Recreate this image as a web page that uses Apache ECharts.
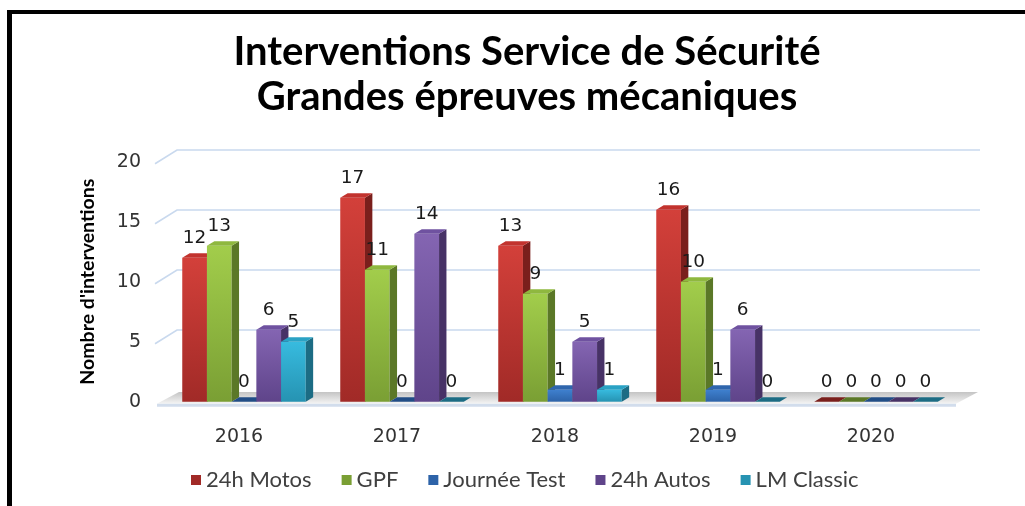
<!DOCTYPE html>
<html>
<head>
<meta charset="utf-8">
<script src="https://cdn.jsdelivr.net/npm/echarts@6/dist/echarts.min.js"></script>
<style>
html, body { margin: 0; padding: 0; background: #fff; overflow: hidden; }
#chart { width: 1025px; height: 506px; }
.frame { position: absolute; left: 7px; top: 10px; right: -10px; bottom: -10px;
  border-left: 5px solid #000; border-top: 4px solid #000; pointer-events: none; }
</style>
</head>
<body>
<div id="chart"></div>
<div class="frame"></div>
<script>
// données
const years = ['2016', '2017', '2018', '2019', '2020']
const motos = [12, 17, 13, 16, 0]
const gpf = [13, 11, 9, 10, 0]
const journeeTest = [0, 0, 1, 1, 0]
const autos = [6, 14, 5, 6, 0]
const lmClassic = [5, 0, 1, 0, 0]
const yTicks = [0, 5, 10, 15, 20]

const seriesDefs = [
  { name: '24h Motos', data: motos, front: ['#d3403a', '#a12a27'], side: '#7a1f1c', top: '#c2332e' },
  { name: 'GPF', data: gpf, front: ['#a2cd4b', '#7a9f34'], side: '#5b7827', top: '#8fb83f' },
  { name: 'Journée Test', data: journeeTest, front: ['#3f80cf', '#2d63a8'], side: '#214d86', top: '#2f66ad' },
  { name: '24h Autos', data: autos, front: ['#8465b2', '#5f448a'], side: '#473266', top: '#6f52a0' },
  { name: 'LM Classic', data: lmClassic, front: ['#37bbdf', '#2693b2'], side: '#1c6c84', top: '#2aa2c4' }
]

const BAR_W = 24.7
const DX = 7.4, DY = -4.5        // profondeur des barres
const WALL_DX = 22, WALL_DY = -11.7  // mur du fond
const SHIFT = 5

function barItem(idx) {
  const c = seriesDefs[idx]
  return function (params, api) {
    const cat = api.value(0)
    const val = api.value(1)
    const base = api.coord([cat, 0])
    const top = api.coord([cat, val])
    const groupW = BAR_W * seriesDefs.length
    const x0 = base[0] + SHIFT - groupW / 2 + idx * BAR_W
    const x1 = x0 + BAR_W
    const children = []
    if (val > 0) {
      children.push({
        type: 'rect',
        shape: { x: x0, y: top[1], width: BAR_W, height: base[1] - top[1] },
        style: { fill: new echarts.graphic.LinearGradient(0, 0, 0, 1, [
          { offset: 0, color: c.front[0] }, { offset: 1, color: c.front[1] }]) }
      })
      children.push({
        type: 'polygon',
        shape: { points: [[x1, top[1]], [x1 + DX, top[1] + DY], [x1 + DX, base[1] + DY], [x1, base[1]]] },
        style: { fill: c.side }
      })
      children.push({
        type: 'polygon',
        shape: { points: [[x0, top[1]], [x0 + DX, top[1] + DY], [x1 + DX, top[1] + DY], [x1, top[1]]] },
        style: { fill: c.top }
      })
    } else {
      children.push({
        type: 'polygon',
        shape: { points: [[x0, base[1]], [x0 + DX, base[1] + DY], [x1 + DX, base[1] + DY], [x1, base[1]]] },
        style: { fill: c.side }
      })
    }
    children.push({
      type: 'text',
      style: {
        text: String(val), x: (x0 + x1) / 2, y: top[1] - 20,
        align: 'center', verticalAlign: 'middle',
        font: '18.5px "DejaVu Sans"', fill: '#1a1a1a'
      }
    })
    return { type: 'group', children }
  }
}

function wallItem(params, api) {
  const v = api.value(1)
  const cs = params.coordSys
  const p = api.coord([0, v])
  const L = cs.x, R = cs.x + cs.width
  const y = p[1]
  if (v === 0) {
    return {
      type: 'group',
      children: [
        {
          type: 'polygon',
          shape: { points: [[L - 3, y + 2], [L + WALL_DX - 3, y + WALL_DY + 2], [R + 28, y + WALL_DY + 2], [R + 6, y + 2]] },
          style: { fill: new echarts.graphic.LinearGradient(0, 0, 0, 1, [
            { offset: 0, color: '#c4c4c4' }, { offset: 1, color: '#f4f4f4' }]) }
        },
        {
          type: 'polygon',
          shape: { points: [[L - 3, y + 2], [R + 6, y + 2], [R + 6, y + 5], [L - 3, y + 5]] },
          style: { fill: '#d2ddec' }
        }
      ]
    }
  }
  return {
    type: 'polyline',
    shape: { points: [[L - 5, y + 2], [L + WALL_DX - 5, y + WALL_DY], [R + 30, y + WALL_DY]] },
    style: { stroke: '#c9d9ee', lineWidth: 1.6, fill: null }
  }
}

const chart = echarts.init(document.getElementById('chart'))

const series = [{
  type: 'custom',
  name: 'wall',
  renderItem: wallItem,
  data: yTicks.map(v => [0, v]),
  silent: true
}]
seriesDefs.forEach((s, i) => {
  series.push({
    type: 'custom',
    name: s.name,
    itemStyle: { color: s.front[1] },
    renderItem: barItem(i),
    data: s.data.map((v, k) => [k, v])
  })
})

chart.setOption({
  animation: false,
  backgroundColor: '#fff',
  title: {
    text: 'Interventions Service de Sécurité\nGrandes épreuves mécaniques',
    left: 522,
    textAlign: 'center',
    top: 25,
    textStyle: { fontFamily: 'Lato', fontWeight: 'bold', fontSize: 40, lineHeight: 45, color: '#000' }
  },
  legend: {
    data: seriesDefs.map(s => s.name),
    left: 186,
    top: 464,
    icon: 'rect',
    itemWidth: 10,
    itemHeight: 10,
    itemGap: 30,
    textStyle: { fontFamily: 'Lato', fontSize: 22, color: '#404040' }
  },
  grid: { left: 160, right: 75, top: 161.7, bottom: 104.3 },
  xAxis: {
    type: 'category',
    data: years,
    axisLine: { show: false },
    axisTick: { show: false },
    axisLabel: { margin: 26, fontFamily: 'DejaVu Sans', fontSize: 19, color: '#333' }
  },
  yAxis: {
    type: 'value',
    min: 0,
    max: 20,
    interval: 5,
    name: "Nombre d'interventions",
    nameLocation: 'middle',
    nameGap: 62,
    nameTextStyle: { fontFamily: 'Lato', fontWeight: 'bold', fontSize: 19.5, color: '#000' },
    splitLine: { show: false },
    axisLine: { show: false },
    axisTick: { show: false },
    axisLabel: { margin: 19, fontFamily: 'DejaVu Sans', fontSize: 19, color: '#333' }
  },
  series
})
</script>
</body>
</html>
